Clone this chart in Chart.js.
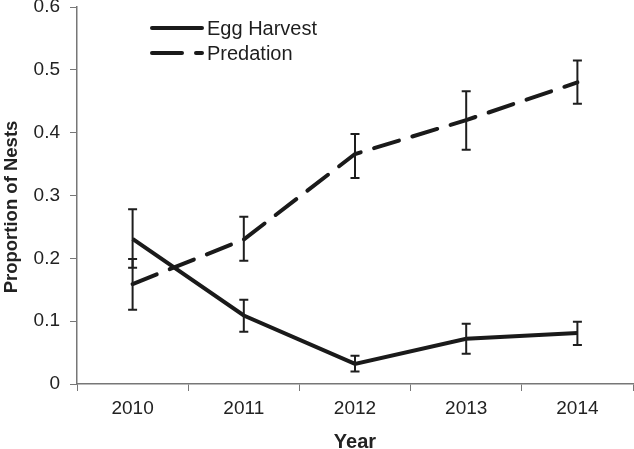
<!DOCTYPE html>
<html>
<head>
<meta charset="utf-8">
<script src="https://cdn.jsdelivr.net/npm/chart.js@4.4.1/dist/chart.umd.min.js"></script>
<style>
  html, body { margin: 0; padding: 0; background: #fff; }
  #wrap { width: 634px; height: 449px; position: relative; }
</style>
</head>
<body>
<div id="wrap"><canvas id="chart"></canvas></div>
<script>
// data
var years = ['2010', '2011', '2012', '2013', '2014'];
var eggHarvest    = [0.231, 0.109, 0.032, 0.072, 0.081];
var eggHarvestLow = [0.185, 0.083, 0.020, 0.048, 0.062];
var eggHarvestHigh= [0.278, 0.134, 0.045, 0.096, 0.099];
var predation     = [0.159, 0.230, 0.366, 0.420, 0.480];
var predationLow  = [0.118, 0.196, 0.328, 0.373, 0.446];
var predationHigh = [0.199, 0.266, 0.398, 0.466, 0.515];
var yTicks = [0, 0.1, 0.2, 0.3, 0.4, 0.5, 0.6];

var FONT = 'Liberation Sans, Arial, sans-serif';

// error bars drawn from the low/high arrays through the scales
var errorBars = {
    id: 'errorBars',
    afterDatasetsDraw: function(chart) {
        var ctx = chart.ctx;
        var x = chart.scales.x, y = chart.scales.y;
        var sets = [[eggHarvestLow, eggHarvestHigh], [predationLow, predationHigh]];
        ctx.save();
        ctx.strokeStyle = '#1e1e1e';
        ctx.lineWidth = 2;
        sets.forEach(function(s) {
            for (var i = 0; i < years.length; i++) {
                var px = x.getPixelForValue(i);
                var lo = y.getPixelForValue(s[0][i]);
                var hi = y.getPixelForValue(s[1][i]);
                ctx.beginPath();
                ctx.moveTo(px, lo); ctx.lineTo(px, hi);
                ctx.moveTo(px - 4.5, lo); ctx.lineTo(px + 4.5, lo);
                ctx.moveTo(px - 4.5, hi); ctx.lineTo(px + 4.5, hi);
                ctx.stroke();
            }
        });
        ctx.restore();
    }
};

// legend sitting inside the plot, top left, plus the y title (sits a bit below centre in the original)
var insideLegend = {
    id: 'insideLegend',
    afterDraw: function(chart) {
        var ctx = chart.ctx;
        ctx.save();
        ctx.font = '20px ' + FONT;
        ctx.fillStyle = '#1e1e1e';
        ctx.textBaseline = 'middle';
        chart.data.datasets.forEach(function(ds, i) {
            var ly = 28 + i * 25;
            ctx.strokeStyle = '#1a1a1a';
            ctx.lineWidth = 4;
            ctx.lineCap = 'round';
            ctx.setLineDash(i === 1 ? [30, 14] : []);
            ctx.beginPath();
            ctx.moveTo(152, ly); ctx.lineTo(202, ly);
            ctx.stroke();
            ctx.setLineDash([]);
            ctx.fillText(ds.label, 207, ly + 1);
        });

        ctx.translate(12, 207);
        ctx.rotate(-Math.PI / 2);
        ctx.textAlign = 'center';
        ctx.fillStyle = '#222';
        ctx.font = 'bold 18.5px ' + FONT;
        ctx.fillText('Proportion of Nests', 0, 0);
        ctx.restore();
    }
};

new Chart(document.getElementById('chart').getContext('2d'), {
    type: 'line',
    data: {
        labels: years,
        datasets: [{
            label: 'Egg Harvest',
            data: eggHarvest,
            borderColor: '#1a1a1a',
            borderWidth: 4,
            pointRadius: 0,
            tension: 0
        }, {
            label: 'Predation',
            data: predation,
            borderColor: '#1a1a1a',
            borderWidth: 4,
            borderDash: [26, 14],
            borderCapStyle: 'round',
            pointRadius: 0,
            tension: 0
        }]
    },
    options: {
        responsive: true,
        maintainAspectRatio: false,
        animation: false,
        layout: { padding: { top: 0, right: 1, left: 0, bottom: 0 } },
        plugins: {
            legend: { display: false },
            tooltip: { enabled: false }
        },
        scales: {
            x: {
                type: 'category',
                offset: true,
                grid: { offset: true, drawOnChartArea: false, color: '#777', tickLength: 7 },
                border: { color: '#777', width: 1.5 },
                ticks: { color: '#222', font: { family: FONT, size: 19 }, padding: 6 },
                title: { display: true, text: 'Year', color: '#222', font: { family: FONT, size: 20, weight: 'bold' }, padding: { top: 0, bottom: -5 } },
                afterFit: function(s) { s.height = 65; }
            },
            y: {
                min: 0,
                max: 0.6,
                afterBuildTicks: function(s) { s.ticks = yTicks.map(function(v) { return { value: v }; }); },
                grid: { drawOnChartArea: false, color: '#777', tickLength: 7 },
                border: { color: '#777', width: 1.5 },
                ticks: { color: '#222', font: { family: FONT, size: 19 }, padding: 10,
                         callback: function(v) { return v === 0 ? '0' : v.toFixed(1); } },
                afterFit: function(s) { s.width = 77; s.paddingTop = 7; s.paddingBottom = 0; }
            }
        }
    },
    plugins: [errorBars, insideLegend]
});
</script>
</body>
</html>
